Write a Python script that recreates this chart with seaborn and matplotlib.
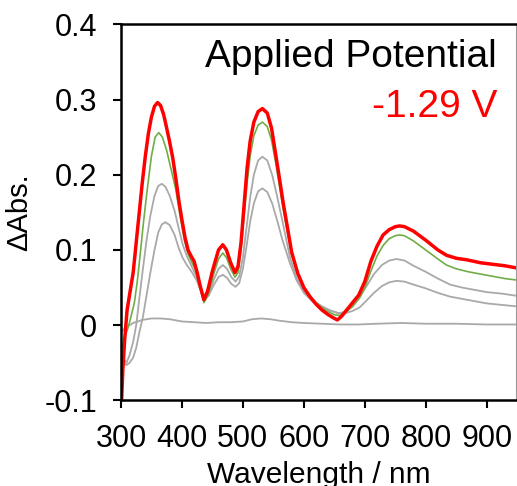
import matplotlib
matplotlib.use("Agg")
import matplotlib.pyplot as plt
import seaborn as sns

# Spectra (wavelength in nm, delta absorbance)
wl_red = [301, 303, 306, 310, 315, 320, 325, 330, 335, 340, 345, 350, 355, 360, 365, 370, 375, 380,
          385, 390, 395, 400, 405, 410, 415, 420, 425, 430, 436, 442, 450, 460, 467, 473, 480, 487,
          492, 497, 502, 507, 512, 518, 525, 532, 540, 547, 554, 560, 566, 572, 580, 590, 600, 610,
          620, 630, 640, 648, 655, 662, 670, 680, 690, 700, 710, 720, 730, 740, 750, 757, 765, 780,
          800, 820, 834, 850, 867, 890, 910, 930, 950]
abs_red = [-0.100, -0.060, -0.020, 0.020, 0.045, 0.070, 0.110, 0.150, 0.190, 0.225, 0.255, 0.277,
           0.291, 0.296, 0.292, 0.280, 0.262, 0.243, 0.222, 0.195, 0.165, 0.140, 0.117, 0.100, 0.092,
           0.085, 0.070, 0.052, 0.034, 0.045, 0.072, 0.100, 0.107, 0.100, 0.083, 0.070, 0.078, 0.110,
           0.160, 0.210, 0.245, 0.270, 0.284, 0.288, 0.282, 0.262, 0.226, 0.195, 0.163, 0.135, 0.097,
           0.069, 0.050, 0.038, 0.028, 0.020, 0.014, 0.010, 0.007, 0.012, 0.020, 0.030, 0.040, 0.058,
           0.085, 0.105, 0.120, 0.127, 0.131, 0.132, 0.131, 0.125, 0.113, 0.100, 0.093, 0.089, 0.087,
           0.083, 0.081, 0.079, 0.076]

wl_green = [302, 306, 311, 316, 322, 327, 331, 336, 343, 350, 356, 362, 368, 375, 382, 390, 397, 404,
            410, 416, 422, 428, 436, 443, 452, 460, 467, 473, 480, 487, 492, 497, 502, 507, 512, 518,
            525, 532, 540, 547, 554, 560, 566, 572, 580, 590, 600, 610, 620, 630, 640, 650, 659, 668,
            680, 692, 700, 710, 720, 730, 740, 750, 757, 765, 780, 800, 820, 834, 850, 870, 890, 910,
            930, 950]
abs_green = [-0.030, -0.015, -0.005, 0.010, 0.030, 0.060, 0.090, 0.130, 0.180, 0.225, 0.250, 0.256,
             0.250, 0.232, 0.208, 0.180, 0.145, 0.113, 0.095, 0.084, 0.074, 0.055, 0.030, 0.040, 0.068,
             0.088, 0.096, 0.090, 0.075, 0.064, 0.070, 0.100, 0.145, 0.190, 0.225, 0.252, 0.266, 0.270,
             0.264, 0.246, 0.215, 0.185, 0.155, 0.128, 0.095, 0.068, 0.050, 0.039, 0.030, 0.023, 0.018,
             0.014, 0.013, 0.017, 0.025, 0.037, 0.050, 0.072, 0.092, 0.106, 0.115, 0.119, 0.120, 0.119,
             0.112, 0.100, 0.088, 0.080, 0.075, 0.071, 0.068, 0.065, 0.062, 0.060]

wl_gray = [302, 305, 309, 314, 320, 325, 330, 336, 342, 348, 355, 361, 367, 373, 380, 388, 395, 401,
           408, 416, 424, 430, 437, 444, 452, 460, 467, 474, 481, 488, 494, 500, 506, 512, 518, 525,
           532, 540, 548, 556, 565, 577, 588, 600, 615, 630, 645, 657, 668, 680, 692, 703, 715, 728,
           740, 752, 765, 780, 800, 820, 840, 860, 880, 900, 925, 950]
abs_gray_hi = [-0.035, -0.045, -0.050, -0.040, -0.022, 0.000, 0.035, 0.075, 0.113, 0.145, 0.172,
               0.185, 0.188, 0.184, 0.172, 0.152, 0.128, 0.108, 0.092, 0.078, 0.065, 0.050, 0.033,
               0.040, 0.060, 0.075, 0.080, 0.075, 0.064, 0.058, 0.065, 0.090, 0.130, 0.170, 0.200,
               0.219, 0.224, 0.219, 0.200, 0.172, 0.138, 0.091, 0.063, 0.045, 0.033, 0.025, 0.019,
               0.016, 0.018, 0.025, 0.038, 0.052, 0.068, 0.080, 0.086, 0.088, 0.086, 0.079, 0.071,
               0.062, 0.054, 0.050, 0.047, 0.044, 0.042, 0.039]
abs_gray_lo = [-0.040, -0.050, -0.053, -0.050, -0.043, -0.030, -0.010, 0.011, 0.040, 0.069, 0.100,
               0.123, 0.134, 0.137, 0.133, 0.120, 0.102, 0.090, 0.080, 0.071, 0.060, 0.048, 0.034,
               0.040, 0.053, 0.064, 0.067, 0.063, 0.055, 0.051, 0.056, 0.075, 0.105, 0.138, 0.162,
               0.178, 0.182, 0.177, 0.162, 0.140, 0.113, 0.083, 0.060, 0.043, 0.031, 0.024, 0.019,
               0.016, 0.016, 0.019, 0.024, 0.033, 0.043, 0.052, 0.057, 0.059, 0.058, 0.054, 0.049,
               0.043, 0.038, 0.035, 0.032, 0.029, 0.027, 0.025]

wl_base = [302, 310, 320, 335, 350, 365, 380, 400, 420, 440, 460, 480, 500, 515, 530, 545, 560, 580,
           600, 630, 660, 690, 720, 760, 800, 850, 900, 950]
abs_base = [-0.007, -0.002, 0.003, 0.007, 0.009, 0.009, 0.008, 0.005, 0.004, 0.003, 0.004, 0.004,
            0.005, 0.008, 0.009, 0.008, 0.006, 0.004, 0.003, 0.002, 0.001, 0.001, 0.002, 0.003,
            0.002, 0.002, 0.001, 0.001]

x_ticks = [300, 400, 500, 600, 700, 800, 900]
y_ticks = [-0.1, 0, 0.1, 0.2, 0.3, 0.4]
y_tick_labels = ["-0.1", "0", "0.1", "0.2", "0.3", "0.4"]

sns.set_style("ticks")
plt.rcParams["font.family"] = ["Liberation Sans", "DejaVu Sans"]
plt.rcParams["axes.unicode_minus"] = False
plt.rcParams["text.color"] = "black"
plt.rcParams["axes.labelcolor"] = "black"
plt.rcParams["xtick.color"] = "black"
plt.rcParams["ytick.color"] = "black"

fig = plt.figure(figsize=(5.17, 4.86), dpi=100)
ax = fig.add_axes([0.234, 0.176, 0.764, 0.774])

gray = "#a9a9a9"
sns.lineplot(x=wl_base, y=abs_base, ax=ax, color=gray, lw=1.3, estimator=None)
sns.lineplot(x=wl_gray, y=abs_gray_lo, ax=ax, color=gray, lw=1.3, estimator=None)
sns.lineplot(x=wl_gray, y=abs_gray_hi, ax=ax, color=gray, lw=1.3, estimator=None)
sns.lineplot(x=wl_green, y=abs_green, ax=ax, color="#70ad47", lw=1.2, estimator=None)
sns.lineplot(x=wl_red, y=abs_red, ax=ax, color="#ff0000", lw=2.5, estimator=None)

ax.set_xlim(300, 948)
ax.set_ylim(-0.1, 0.4)
ax.set_xticks(x_ticks)
ax.set_yticks(y_ticks)
ax.set_yticklabels(y_tick_labels)
ax.tick_params(axis="both", labelsize=22, length=6, width=1.5, pad=11,
               color="black", labelcolor="black")

for side in ["left", "bottom", "top"]:
    ax.spines[side].set_linewidth(1.8)
    ax.spines[side].set_color("black")
ax.spines["right"].set_linewidth(0.8)
ax.spines["right"].set_color("#999999")

ax.set_xlabel("Wavelength / nm", fontsize=21.5, labelpad=5, color="black")
ax.set_ylabel("ΔAbs.", fontsize=21, labelpad=8, color="black")

ax.text(0.952, 0.887, "Applied Potential", transform=ax.transAxes, ha="right", va="baseline",
        fontsize=28, color="black")
ax.text(0.952, 0.754, "-1.29 V", transform=ax.transAxes, ha="right", va="baseline",
        fontsize=28, color="#ff0000")

fig.savefig("out.png", dpi=100)
